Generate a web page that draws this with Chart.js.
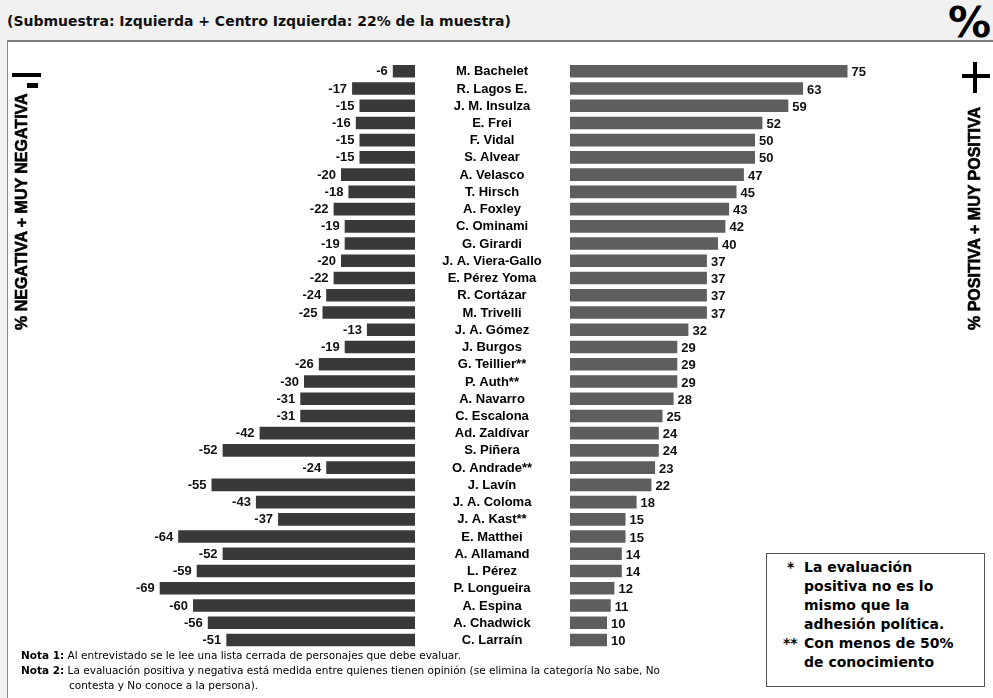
<!DOCTYPE html>
<html><head><meta charset="utf-8">
<script src="https://cdn.jsdelivr.net/npm/chart.js@4.4.1/dist/chart.umd.min.js"></script>
<style>
html,body{margin:0;padding:0;}
body{width:993px;height:698px;position:relative;overflow:hidden;background:#f1f1f1;font-family:"Liberation Sans",Arial,sans-serif;}
#panel{position:absolute;left:7px;top:40px;width:990px;height:670px;background:#fff;border-left:1px solid #8a8a8a;border-top:2px solid #7a7a7a;}
#sub{position:absolute;left:7px;top:13px;font:bold 14px "DejaVu Sans",Verdana,sans-serif;color:#111;white-space:nowrap;}
#pct{position:absolute;left:948px;top:-3px;font:bold 43px "DejaVu Sans",Verdana,sans-serif;color:#000;}
.cv{position:absolute;top:0;height:698px;}
#cl{left:0;width:415px;}
#cr{left:415px;width:578px;}
.vt{position:absolute;transform-origin:0 0;transform:rotate(-90deg);font-family:"Liberation Sans",Arial,sans-serif;font-weight:700;font-size:16px;color:#000;white-space:nowrap;line-height:18px;-webkit-text-stroke:0.6px #000;}
.blk{position:absolute;background:#000;}
#notes{position:absolute;left:21px;top:648px;font-size:10.5px;font-family:"DejaVu Sans",Verdana,sans-serif;color:#000;line-height:15px;}
#notes b{font-weight:bold;}
#box{position:absolute;left:766px;top:553px;width:219px;height:134px;border:1px solid #555;background:#fff;box-sizing:border-box;}
#box div{position:absolute;font-weight:bold;font-size:14px;font-family:"DejaVu Sans",Verdana,sans-serif;color:#000;white-space:nowrap;}
</style></head>
<body>
<div id="panel"></div>
<div id="sub">(Submuestra: Izquierda + Centro Izquierda: 22% de la muestra)</div>
<div id="pct">%</div>
<div class="cv" id="cl"><canvas id="chartL"></canvas></div>
<div class="cv" id="cr"><canvas id="chartR"></canvas></div>
<div class="vt" id="vl" style="left:13px;top:330px;">% NEGATIVA + MUY NEGATIVA</div>
<div class="blk" style="left:12px;top:73px;width:29px;height:4px;"></div>
<div class="blk" style="left:27px;top:83px;width:11px;height:5px;"></div>
<div class="vt" id="vr" style="left:966px;top:330px;">% POSITIVA + MUY POSITIVA</div>
<div class="blk" style="left:973px;top:62px;width:4px;height:31px;"></div>
<div class="blk" style="left:962px;top:74px;width:28px;height:4px;"></div>
<div id="notes">
<div><b>Nota 1:</b> Al entrevistado se le lee una lista cerrada de personajes que debe evaluar.</div>
<div><b>Nota 2:</b> La evaluación positiva y negativa está medida entre quienes tienen opinión (se elimina la categoría No sabe, No</div>
<div style="padding-left:48px;">contesta y No conoce a la persona).</div>
</div>
<div id="box">
<div style="left:20px;top:5px;">*</div><div style="left:37px;top:5px;">La evaluación</div>
<div style="left:37px;top:24px;">positiva no es lo</div>
<div style="left:37px;top:43px;">mismo que la</div>
<div style="left:37px;top:62px;">adhesión política.</div>
<div style="left:16px;top:81px;">**</div><div style="left:37px;top:81px;">Con menos de 50%</div>
<div style="left:37px;top:100px;">de conocimiento</div>
</div>
<script>
const names = ["M. Bachelet","R. Lagos E.","J. M. Insulza","E. Frei","F. Vidal","S. Alvear","A. Velasco","T. Hirsch","A. Foxley","C. Ominami","G. Girardi","J. A. Viera-Gallo","E. Pérez Yoma","R. Cortázar","M. Trivelli","J. A. Gómez","J. Burgos","G. Teillier**","P. Auth**","A. Navarro","C. Escalona","Ad. Zaldívar","S. Piñera","O. Andrade**","J. Lavín","J. A. Coloma","J. A. Kast**","E. Matthei","A. Allamand","L. Pérez","P. Longueira","A. Espina","A. Chadwick","C. Larraín"];
const negativa = [-6,-17,-15,-16,-15,-15,-20,-18,-22,-19,-19,-20,-22,-24,-25,-13,-19,-26,-30,-31,-31,-42,-52,-24,-55,-43,-37,-64,-52,-59,-69,-60,-56,-51];
const positiva = [75,63,59,52,50,50,47,45,43,42,40,37,37,37,37,32,29,29,29,28,25,24,24,23,22,18,15,15,14,14,12,11,10,10];

const LABEL_FONT = 'bold 13px "Liberation Sans", Arial, sans-serif';
const padTop = 62.6, padBottom = 49.4;

const valueLabels = {
  id: 'valueLabels',
  afterDatasetsDraw(chart, args, opts) {
    const ctx = chart.ctx;
    const meta = chart.getDatasetMeta(0);
    const data = chart.data.datasets[0].data;
    ctx.save();
    ctx.font = LABEL_FONT;
    ctx.fillStyle = '#111';
    ctx.textBaseline = 'middle';
    meta.data.forEach((bar, i) => {
      const v = data[i];
      if (v < 0) {
        ctx.textAlign = 'right';
        ctx.fillText(String(v), bar.x - 5, bar.y + 0.5);
      } else {
        ctx.textAlign = 'left';
        ctx.fillText(String(v), bar.x + 4, bar.y + 1.5);
      }
    });
    if (opts.names) {
      const ys = chart.scales.y;
      ctx.textAlign = 'center';
      ctx.fillStyle = '#000';
      chart.data.labels.forEach((n, i) => {
        ctx.fillText(n, chart.chartArea.left - 78, ys.getPixelForValue(i) + 0.5);
      });
    }
    ctx.restore();
  }
};

function makeConfig(min, max, color, data, padding, showNames) {
  return {
    type: 'bar',
    data: { labels: names, datasets: [{ data: data, backgroundColor: color, borderWidth: 0, barPercentage: 0.73, categoryPercentage: 1 }] },
    options: {
      indexAxis: 'y', responsive: true, maintainAspectRatio: false, animation: false,
      layout: { padding: padding },
      plugins: { legend: { display: false }, tooltip: { enabled: false }, valueLabels: { names: showNames } },
      scales: {
        x: { display: false, min: min, max: max },
        y: { display: false }
      }
    },
    plugins: [valueLabels]
  };
}
new Chart(document.getElementById('chartL'), makeConfig(-70, 0, '#393939', negativa, { left: 156, right: 0, top: padTop, bottom: padBottom }, false));
new Chart(document.getElementById('chartR'), makeConfig(0, 80, '#5e5e5e', positiva, { left: 155, right: 127, top: padTop, bottom: padBottom }, true));
</script>
</body></html>
